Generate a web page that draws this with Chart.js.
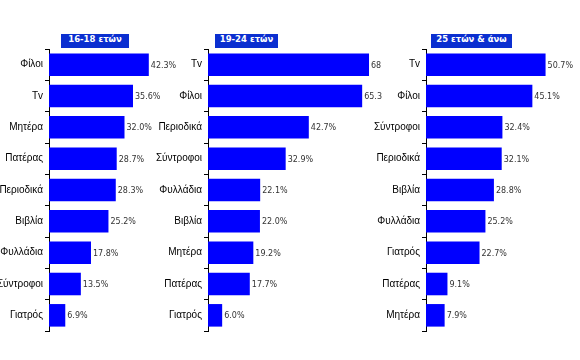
<!DOCTYPE html>
<html>
<head>
<meta charset="utf-8">
<script src="https://cdn.jsdelivr.net/npm/chart.js@4/dist/chart.umd.min.js"></script>
<style>
  body { margin: 0; background: #fff; }
  #wrap { position: relative; width: 580px; height: 360px; overflow: hidden; }
  canvas { position: absolute; top: 0; }
  .ttl {
    position: absolute; top: 34px; height: 14px; line-height: 14px;
    background: #0b2fd0; color: #fff; text-align: center;
    font: bold 8.5px "DejaVu Sans", sans-serif; z-index: 5;
  }
</style>
</head>
<body>
<div id="wrap">
  <canvas id="c1" width="200" height="360" style="left:0px"></canvas>
  <canvas id="c2" width="232" height="360" style="left:150px"></canvas>
  <canvas id="c3" width="210" height="360" style="left:370px"></canvas>
  <div class="ttl" style="left:61px;width:68px">16-18 ετών</div>
  <div class="ttl" style="left:215px;width:63px">19-24 ετών</div>
  <div class="ttl" style="left:431px;width:81px">25 ετών &amp; άνω</div>
</div>
<script>
const labels1 = ["Φίλοι", "Τv", "Μητέρα", "Πατέρας", "Περιοδικά", "Βιβλία", "Φυλλάδια", "Σύντροφοι", "Γιατρός"];
const values1 = [42.3, 35.6, 32.0, 28.7, 28.3, 25.2, 17.8, 13.5, 6.9];

const labels2 = ["Τv", "Φίλοι", "Περιοδικά", "Σύντροφοι", "Φυλλάδια", "Βιβλία", "Μητέρα", "Πατέρας", "Γιατρός"];
const values2 = [68.2, 65.3, 42.7, 32.9, 22.1, 22.0, 19.2, 17.7, 6.0];

const labels3 = ["Τv", "Φίλοι", "Σύντροφοι", "Περιοδικά", "Βιβλία", "Φυλλάδια", "Γιατρός", "Πατέρας", "Μητέρα"];
const values3 = [50.7, 45.1, 32.4, 32.1, 28.8, 25.2, 22.7, 9.1, 7.9];

// draws the "42.3%" labels next to each bar
const valueLabels = {
  id: "valueLabels",
  afterDatasetsDraw(chart) {
    const ctx = chart.ctx;
    const ds = chart.data.datasets[0];
    ctx.save();
    ctx.font = "8px 'DejaVu Sans', sans-serif";
    ctx.fillStyle = "#333";
    ctx.textBaseline = "middle";
    chart.getDatasetMeta(0).data.forEach((bar, i) => {
      ctx.fillText(ds.data[i].toFixed(1) + "%", bar.x + 2, bar.y + 1);
    });
    ctx.restore();
  },
};

function makePanel(id, labels, values, axisWidth, xMax) {
  return new Chart(document.getElementById(id), {
    type: "bar",
    data: {
      labels: labels,
      datasets: [
        {
          data: values,
          backgroundColor: "#0000ff",
          categoryPercentage: 0.72,
          barPercentage: 1,
        },
      ],
    },
    options: {
      indexAxis: "y",
      responsive: false,
      animation: false,
      devicePixelRatio: 1,
      layout: { padding: { top: 49, bottom: 29, left: 0, right: 0 } },
      plugins: {
        legend: { display: false },
        tooltip: { enabled: false },
      },
      scales: {
        x: { display: false, min: 0, max: xMax },
        y: {
          afterFit: (s) => { s.width = axisWidth; },
          border: { display: true, color: "#000", width: 1 },
          grid: { drawOnChartArea: false, tickLength: 4, color: "#000" },
          ticks: {
            color: "#000",
            padding: 2,
            font: { family: "'Liberation Sans', Arial, sans-serif", size: 10 },
          },
        },
      },
    },
    plugins: [valueLabels],
  });
}

makePanel("c1", labels1, values1, 49, 64);
makePanel("c2", labels2, values2, 58, 73.7);
makePanel("c3", labels3, values3, 56, 65.3);
</script>
</body>
</html>
